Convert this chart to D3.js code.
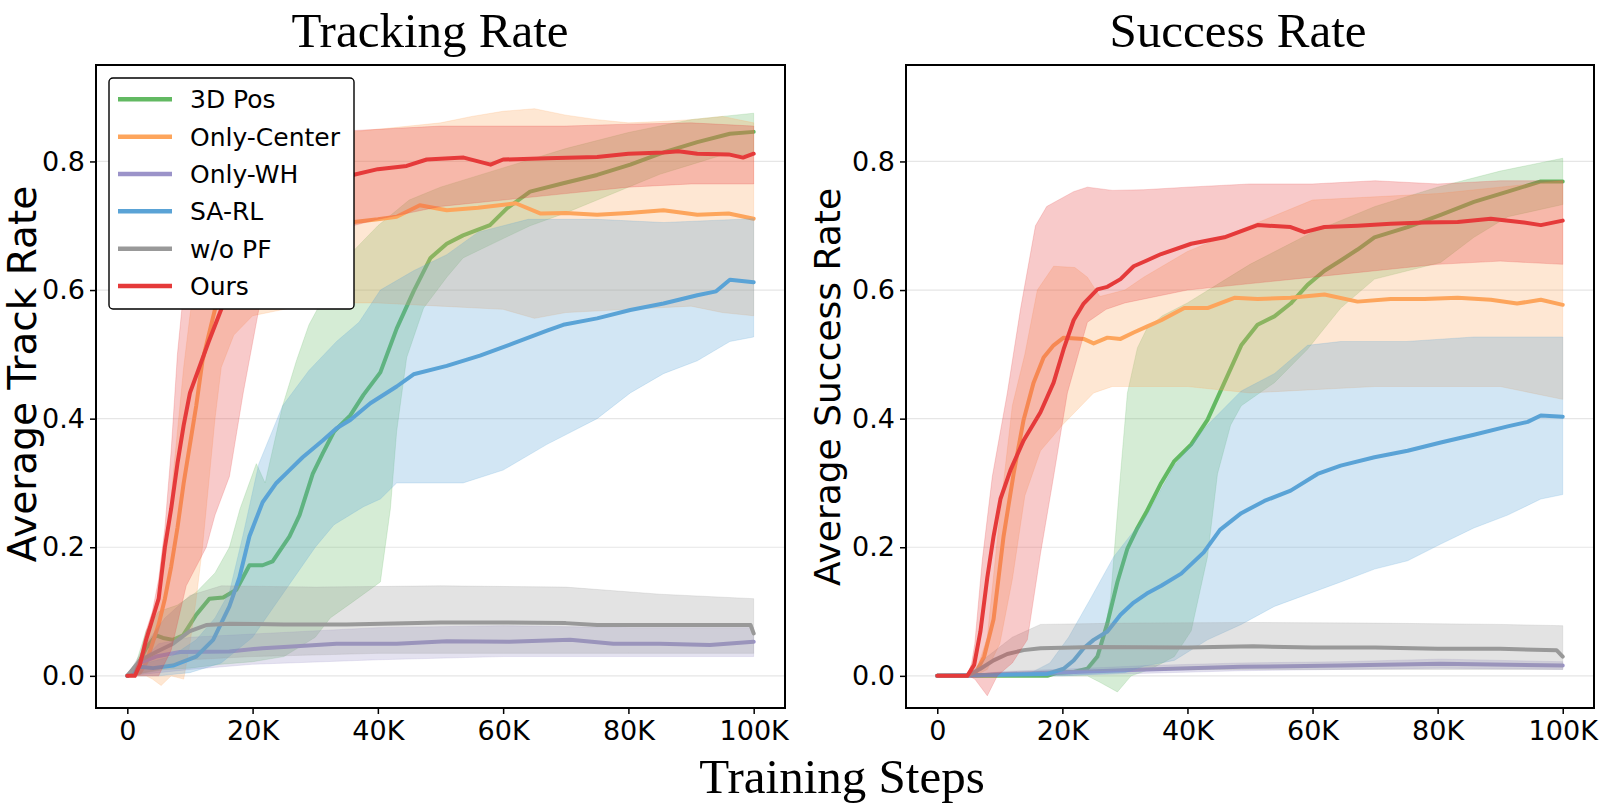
<!DOCTYPE html>
<html>
<head>
<meta charset="utf-8">
<script src="https://d3js.org/d3.v7.min.js"></script>
<style>
  body { margin: 0; background: #fff; }
  svg { display: block; }
</style>
</head>
<body>
<div id="chart"></div>
<script>
/* series names and colours, in legend / drawing order */
const seriesNames  = ["3D Pos", "Only-Center", "Only-WH", "SA-RL", "w/o PF", "Ours"];
const seriesColors = ["#62b962", "#fda55c", "#9b93c9", "#5aa3d6", "#999999", "#e53a3a"];
const xTicks = [0, 20, 40, 60, 80, 100];   // thousands of steps
const yTicks = [0, 0.2, 0.4, 0.6, 0.8];

/* ---- Tracking Rate : [step (K), value] ---- */
const trackPosMean = [[0,0],[1.4,0.011],[3,0.043],[4.6,0.063],[5.7,0.059],[7.3,0.056],[8.9,0.063],[11,0.095],[13.1,0.12],[15.3,0.122],[17.4,0.134],[19.5,0.172],[21.6,0.172],[23.2,0.178],[25.9,0.217],[27.5,0.25],[29.6,0.314],[31.2,0.346],[33,0.38],[35.6,0.405],[37.7,0.437],[40.4,0.472],[43,0.54],[45.7,0.598],[48.4,0.65],[51,0.672],[53.6,0.685],[57.9,0.701],[60.6,0.727],[64.3,0.753],[69.6,0.766],[75,0.779],[80.3,0.795],[85.6,0.814],[91,0.83],[96.2,0.843],[100,0.846]];
const trackPosLo = [[0,0],[3,0.005],[6,0.01],[10,0.012],[15,0.018],[20,0.022],[25,0.03],[30,0.06],[32.4,0.09],[36,0.115],[40.4,0.146],[42,0.26],[43,0.38],[44.6,0.495],[47.3,0.572],[51,0.62],[53.6,0.65],[60,0.68],[64.3,0.7],[70,0.72],[75,0.74],[80,0.76],[85,0.78],[90,0.795],[95,0.81],[100,0.81]];
const trackPosHi = [[0,0],[1.4,0.02],[3,0.07],[5,0.1],[8,0.11],[11,0.13],[14,0.16],[16.3,0.2],[18,0.26],[20.6,0.33],[22,0.3],[24.8,0.42],[27,0.49],[29,0.546],[32,0.6],[36,0.66],[40,0.7],[45,0.74],[50,0.76],[60,0.79],[70,0.82],[80,0.845],[90,0.865],[100,0.875]];

const trackCenterMean = [[0,0],[2,0.005],[3,0.02],[4,0.05],[5,0.08],[6,0.12],[7,0.17],[8,0.23],[9,0.3],[10,0.36],[11,0.42],[12,0.49],[13,0.53],[14,0.57],[16,0.6],[18,0.62],[22,0.66],[26,0.69],[30,0.7],[33,0.705],[36.2,0.706],[40,0.71],[43,0.714],[46.7,0.732],[51,0.724],[56,0.728],[62,0.735],[66,0.719],[70,0.72],[75,0.717],[80,0.72],[85.6,0.724],[91,0.717],[96,0.719],[100,0.711]];
const trackCenterLo = [[0,0],[3,0],[4,-0.005],[5.4,-0.015],[7,0],[9,-0.005],[10,0.05],[11,0.12],[12,0.2],[13,0.3],[14,0.4],[15,0.48],[17,0.53],[20,0.56],[25,0.57],[30,0.58],[40,0.58],[50,0.575],[60,0.57],[65,0.556],[70,0.565],[80,0.57],[90,0.575],[95,0.565],[100,0.56]];
const trackCenterHi = [[0,0],[3,0.04],[5,0.12],[6,0.18],[7,0.28],[8,0.38],[9,0.48],[10,0.56],[11,0.63],[12,0.68],[14,0.74],[17,0.78],[20,0.8],[25,0.82],[30,0.83],[35,0.845],[40,0.85],[45,0.855],[50,0.86],[55,0.87],[60,0.878],[65,0.882],[70,0.872],[75,0.865],[80,0.86],[85,0.862],[90,0.865],[95,0.87],[100,0.86]];

const trackWHMean = [[0,0],[2,0.02],[4.6,0.03],[8.4,0.037],[16.3,0.038],[21.6,0.043],[27,0.046],[33.4,0.05],[43,0.05],[51,0.054],[61,0.053],[70.7,0.056],[77.6,0.05],[85,0.05],[93,0.048],[100,0.053]];
const trackWHLo = [[0,0],[5,0.005],[10,0.01],[20,0.018],[40,0.025],[60,0.03],[80,0.03],[100,0.03]];
const trackWHHi = [[0,0],[5,0.05],[10,0.06],[20,0.065],[40,0.075],[60,0.078],[80,0.075],[100,0.075]];

const trackSAMean = [[0,0],[2,0.014],[4.1,0.012],[7.3,0.016],[11,0.03],[13.7,0.056],[16.3,0.108],[17.9,0.153],[19.5,0.217],[21.6,0.27],[23.8,0.3],[25.9,0.32],[28,0.34],[31.2,0.366],[33.4,0.385],[35.6,0.398],[38.8,0.424],[43,0.45],[45.7,0.469],[51,0.482],[56.3,0.498],[61.6,0.517],[67,0.537],[69.6,0.546],[75,0.556],[80.3,0.569],[85.6,0.579],[91,0.592],[94,0.598],[96.2,0.616],[100,0.612]];
const trackSALo = [[0,0],[5,0],[10,0.005],[15,0.02],[20,0.06],[25,0.13],[30,0.2],[33,0.235],[37.7,0.263],[40.4,0.275],[43,0.3],[53.6,0.3],[60,0.32],[67,0.36],[75,0.4],[80.3,0.44],[85.6,0.47],[91,0.49],[96.2,0.52],[100,0.527]];
const trackSAHi = [[0,0],[3,0.02],[7,0.03],[11,0.056],[14,0.09],[16.3,0.13],[18.5,0.22],[21,0.33],[24.8,0.42],[29,0.475],[33.4,0.52],[37,0.55],[40.4,0.6],[45.7,0.63],[51,0.655],[56,0.69],[64,0.71],[75,0.71],[85.6,0.705],[100,0.711]];

const trackPFMean = [[0,0],[2,0.024],[4.6,0.037],[7.3,0.05],[9.9,0.069],[12.6,0.079],[16.3,0.081],[25,0.08],[35,0.08],[50,0.083],[60,0.083],[70,0.082],[75,0.079],[85,0.079],[95,0.079],[99.5,0.079],[100,0.066]];
const trackPFLo = [[0,0],[5,0.01],[10,0.025],[20,0.03],[40,0.035],[60,0.035],[80,0.035],[100,0.035]];
const trackPFHi = [[0,0],[3,0.05],[6,0.09],[10,0.125],[15,0.14],[30,0.138],[50,0.14],[70,0.138],[85,0.127],[100,0.12]];

const trackOursMean = [[0,0],[1.2,0],[2,0.017],[3,0.056],[4,0.088],[5,0.12],[6,0.2],[7,0.26],[8,0.33],[9,0.39],[10,0.44],[11.5,0.48],[13,0.52],[15,0.57],[17,0.62],[19,0.66],[21,0.69],[24,0.72],[28,0.75],[32,0.77],[36,0.779],[40,0.788],[44.6,0.793],[47.8,0.803],[53.7,0.806],[58,0.795],[60,0.803],[67,0.805],[75,0.807],[80,0.812],[85.6,0.814],[88,0.816],[91,0.812],[96,0.811],[98.3,0.806],[100,0.812]];
const trackOursLo = [[0,0],[4,0],[5,0],[7,0.04],[9.4,0.14],[12.6,0.2],[14,0.25],[16.3,0.31],[18.5,0.44],[21,0.57],[24,0.62],[28,0.66],[32,0.68],[36,0.7],[40,0.71],[50,0.73],[60,0.74],[70,0.75],[80,0.76],[90,0.765],[100,0.765]];
const trackOursHi = [[0,0],[1,0.005],[2,0.03],[3,0.07],[4,0.1],[5,0.15],[6,0.23],[7,0.35],[8,0.5],[9,0.6],[10,0.68],[12,0.75],[15,0.8],[20,0.83],[30,0.845],[40,0.85],[50,0.855],[60,0.855],[70,0.855],[80,0.858],[90,0.86],[100,0.855]];

/* ---- Success Rate : [step (K), value] ---- */
const succPosMean = [[0,0],[17.6,0],[19.2,0.005],[21.8,0.006],[24,0.011],[25.6,0.03],[27.2,0.082],[28.8,0.146],[30.4,0.198],[32,0.23],[33.5,0.256],[35.8,0.3],[37.9,0.334],[40.6,0.36],[43.2,0.398],[45.9,0.456],[48.6,0.514],[51.2,0.546],[53.9,0.559],[56.5,0.579],[59.2,0.608],[61.9,0.63],[64.5,0.646],[67.2,0.663],[69.9,0.682],[75.2,0.698],[80.5,0.717],[85.8,0.737],[91.2,0.753],[96.5,0.769],[100,0.769]];
const succPosLo = [[0,0],[24,0],[26,-0.01],[28.8,-0.025],[31,0],[34,0.01],[36,0.02],[37.9,0.03],[40.6,0.07],[43.2,0.185],[44.8,0.314],[46.9,0.39],[48.6,0.42],[53.9,0.456],[59.2,0.508],[64.5,0.572],[69.9,0.617],[75.2,0.63],[80.5,0.643],[85.8,0.682],[91.2,0.714],[100,0.733]];
const succPosHi = [[0,0],[24,0.005],[26,0.03],[27.7,0.12],[29.3,0.314],[30.4,0.44],[32,0.51],[33.5,0.54],[36,0.56],[40,0.58],[45,0.61],[50,0.64],[60,0.69],[70,0.73],[80,0.76],[90,0.785],[100,0.805]];

const succCenterMean = [[0,0],[5.9,0],[7.5,0.03],[9,0.088],[10.6,0.217],[12.2,0.314],[13.8,0.398],[15.4,0.456],[17,0.495],[18.6,0.514],[20.2,0.526],[23.4,0.524],[25,0.517],[27.2,0.526],[29.3,0.524],[31.4,0.534],[33.5,0.543],[35.8,0.553],[39.5,0.572],[43.2,0.572],[47.5,0.588],[51.2,0.586],[56.5,0.588],[61.9,0.593],[67.2,0.582],[72.5,0.586],[77.9,0.586],[83.2,0.588],[88.5,0.585],[92.7,0.579],[96.5,0.585],[100,0.577]];
const succCenterLo = [[0,0],[6,0],[8,0.01],[10,0.05],[12,0.15],[14,0.28],[16.5,0.35],[20,0.39],[25,0.44],[28,0.45],[33,0.45],[40,0.45],[50,0.44],[60,0.445],[70,0.45],[80,0.45],[90,0.45],[100,0.43]];
const succCenterHi = [[0,0],[6,0],[8,0.06],[10,0.25],[12,0.42],[14,0.5],[16,0.6],[18.6,0.637],[22,0.635],[24,0.62],[26,0.59],[30,0.6],[33,0.62],[40,0.66],[50,0.7],[60,0.74],[70,0.745],[80,0.75],[90,0.76],[100,0.77]];

const succWHMean = [[0,0],[5,0],[11,0.003],[21.8,0.006],[33.5,0.01],[48.6,0.014],[64.5,0.016],[80.5,0.019],[100,0.016]];
const succWHLo = [[0,0],[5,0],[11,0],[21.8,0.001],[33.5,0.004],[48.6,0.008],[64.5,0.01],[80.5,0.012],[100,0.01]];
const succWHHi = [[0,0],[5,0.002],[11,0.007],[21.8,0.011],[33.5,0.016],[48.6,0.02],[64.5,0.022],[80.5,0.026],[100,0.022]];

const succSAMean = [[0,0],[17.6,0.003],[20.2,0.011],[21.8,0.024],[23.4,0.043],[25,0.056],[27.2,0.069],[29.3,0.095],[31.4,0.114],[33.5,0.128],[35.8,0.14],[39,0.159],[42.6,0.192],[45.2,0.227],[48.6,0.253],[52.3,0.272],[56.5,0.288],[60.8,0.314],[64.5,0.327],[69.9,0.34],[75.2,0.35],[80.5,0.363],[85.8,0.375],[91.2,0.388],[94.4,0.395],[96.5,0.405],[100,0.403]];
const succSALo = [[0,0],[20,0],[30,0.005],[33,0.015],[37.9,0.024],[43.2,0.056],[48.6,0.08],[53.9,0.108],[59.2,0.127],[64.5,0.146],[69.9,0.166],[75.2,0.179],[80.5,0.205],[85.8,0.23],[91.2,0.25],[96.5,0.275],[100,0.282]];
const succSAHi = [[0,0],[15,0.005],[18,0.02],[21,0.06],[24.5,0.12],[28.2,0.185],[31,0.22],[33.5,0.25],[37.9,0.327],[43.2,0.39],[48.6,0.443],[53.9,0.47],[59.2,0.514],[64.5,0.52],[75,0.52],[85.8,0.527],[100,0.527]];

const succPFMean = [[0,0],[4.8,0],[6.9,0.011],[9,0.024],[11.2,0.034],[13.8,0.04],[16.5,0.043],[25,0.045],[40,0.044],[50.5,0.046],[60,0.044],[70,0.044],[80,0.042],[90,0.042],[99,0.04],[100,0.03]];
const succPFLo = [[0,0],[5,0],[10,0.005],[20,0.008],[50,0.01],[100,0.01]];
const succPFHi = [[0,0],[4.8,0],[8,0.03],[12,0.06],[16.5,0.08],[30,0.082],[50,0.083],[70,0.082],[90,0.08],[100,0.078]];

const succOursMean = [[0,0],[4.8,0],[5.9,0.017],[6.9,0.069],[8,0.153],[9,0.217],[10.1,0.275],[11.7,0.32],[13.8,0.366],[16.5,0.41],[18.6,0.456],[20.2,0.508],[21.8,0.553],[23.4,0.579],[25.6,0.601],[27.2,0.605],[29.3,0.617],[31.4,0.637],[33.5,0.646],[35.8,0.656],[40.6,0.672],[45.9,0.682],[51.2,0.701],[56.5,0.698],[58.7,0.69],[61.9,0.698],[67.2,0.7],[72.5,0.703],[77.9,0.705],[83.2,0.706],[88.5,0.711],[93.8,0.705],[96.5,0.701],[100,0.708]];
const succOursLo = [[0,0],[5,0],[6,-0.005],[8,-0.031],[9.6,0],[12,0.02],[14.4,0.056],[16.5,0.19],[18.6,0.31],[20.8,0.44],[24,0.55],[27,0.57],[30,0.58],[35,0.59],[40,0.6],[50,0.61],[60,0.62],[70,0.63],[80,0.64],[90,0.645],[100,0.64]];
const succOursHi = [[0,0],[4.8,0],[5.5,0.02],[6,0.05],[7.2,0.18],[8.8,0.31],[11.2,0.44],[13.3,0.57],[15.7,0.7],[17.5,0.73],[21.8,0.753],[24,0.76],[28,0.755],[33,0.756],[40,0.76],[50,0.765],[60,0.765],[70,0.77],[80,0.765],[90,0.77],[100,0.77]];

/* group arrays per panel, same order as seriesNames */
const trackSeries = [
  [trackPosMean, trackPosLo, trackPosHi],
  [trackCenterMean, trackCenterLo, trackCenterHi],
  [trackWHMean, trackWHLo, trackWHHi],
  [trackSAMean, trackSALo, trackSAHi],
  [trackPFMean, trackPFLo, trackPFHi],
  [trackOursMean, trackOursLo, trackOursHi]
];
const succSeries = [
  [succPosMean, succPosLo, succPosHi],
  [succCenterMean, succCenterLo, succCenterHi],
  [succWHMean, succWHLo, succWHHi],
  [succSAMean, succSALo, succSAHi],
  [succPFMean, succPFLo, succPFHi],
  [succOursMean, succOursLo, succOursHi]
];

/* figure */
const W = 1600, H = 811;
const svg = d3.select("#chart").append("svg")
  .attr("width", W).attr("height", H)
  .style("font-family", "'DejaVu Sans', sans-serif");

const serif = "'Liberation Serif', 'Times New Roman', serif";

function drawPanel(box, series, cfg) {
  const x = d3.scaleLinear().domain([-5, 105]).range([box.left, box.right]);
  const y = d3.scaleLinear().domain([-0.05, 0.95]).range([box.bottom, box.top]);
  const g = svg.append("g");

  const clipId = "clip" + cfg.id;
  g.append("clipPath").attr("id", clipId).append("rect")
    .attr("x", box.left).attr("y", box.top)
    .attr("width", box.right - box.left).attr("height", box.bottom - box.top);

  // horizontal grid
  g.append("g").selectAll("line").data(yTicks).join("line")
    .attr("x1", box.left).attr("x2", box.right)
    .attr("y1", d => y(d)).attr("y2", d => y(d))
    .attr("stroke", "#e6e6e6").attr("stroke-width", 1.2);

  const plot = g.append("g").attr("clip-path", `url(#${clipId})`);
  const line = d3.line().x(d => x(d[0])).y(d => y(d[1]));

  series.forEach((s, i) => {
    const [mean, lo, hi] = s;
    // band: upper edge forward, lower edge backward
    const poly = hi.concat(lo.slice().reverse());
    plot.append("path")
      .attr("d", line(poly) + "Z")
      .attr("fill", seriesColors[i])
      .attr("fill-opacity", 0.27)
      .attr("stroke", seriesColors[i])
      .attr("stroke-opacity", 0.25)
      .attr("stroke-width", 0.8);
    plot.append("path")
      .attr("d", line(mean))
      .attr("fill", "none")
      .attr("stroke", seriesColors[i])
      .attr("stroke-width", 4)
      .attr("stroke-linejoin", "round")
      .attr("stroke-linecap", "round");
  });

  // axes
  const xAxis = g.append("g")
    .attr("transform", `translate(0,${box.bottom})`)
    .call(d3.axisBottom(x).tickValues(xTicks).tickSize(6).tickPadding(7)
      .tickFormat(d => d === 0 ? "0" : d + "K"));
  const yAxis = g.append("g")
    .attr("transform", `translate(${box.left},0)`)
    .call(d3.axisLeft(y).tickValues(yTicks).tickSize(6).tickPadding(5)
      .tickFormat(d3.format(".1f")));
  [xAxis, yAxis].forEach(a => {
    a.select(".domain").remove();
    a.selectAll(".tick line").attr("stroke", "#000").attr("stroke-width", 1.5);
    a.selectAll(".tick text").attr("fill", "#000")
      .style("font-family", "'DejaVu Sans', sans-serif").style("font-size", "27px");
  });

  // frame
  g.append("rect")
    .attr("x", box.left).attr("y", box.top)
    .attr("width", box.right - box.left).attr("height", box.bottom - box.top)
    .attr("fill", "none").attr("stroke", "#000").attr("stroke-width", 2);

  // title
  g.append("text")
    .attr("x", cfg.titleX).attr("y", 47)
    .attr("text-anchor", "middle")
    .style("font-family", serif).style("font-size", "49px")
    .text(cfg.title);

  // y label
  g.append("text")
    .attr("transform", `translate(${cfg.ylabX},${cfg.ylabY}) rotate(-90)`)
    .attr("text-anchor", "middle")
    .style("font-size", cfg.ylabSize + "px")
    .text(cfg.ylabel);
}

drawPanel({left: 96, right: 785, top: 65, bottom: 708}, trackSeries,
  {id: "a", title: "Tracking Rate", titleX: 430, ylabel: "Average Track Rate", ylabX: 36, ylabY: 374, ylabSize: 39});
drawPanel({left: 906, right: 1594, top: 65, bottom: 708}, succSeries,
  {id: "b", title: "Success Rate", titleX: 1238, ylabel: "Average Success Rate", ylabX: 840, ylabY: 387, ylabSize: 36});

// shared x label
svg.append("text")
  .attr("x", 842).attr("y", 793)
  .attr("text-anchor", "middle")
  .style("font-family", serif).style("font-size", "49px")
  .text("Training Steps");

// legend (left panel)
const legend = svg.append("g");
legend.append("rect")
  .attr("x", 109).attr("y", 78).attr("width", 245).attr("height", 231)
  .attr("rx", 4)
  .attr("fill", "#fff").attr("stroke", "#000").attr("stroke-width", 1.4);
const rowY = d3.scaleLinear().domain([0, 5]).range([99.3, 286]);
seriesNames.forEach((name, i) => {
  legend.append("line")
    .attr("x1", 118).attr("x2", 172)
    .attr("y1", rowY(i)).attr("y2", rowY(i))
    .attr("stroke", seriesColors[i]).attr("stroke-width", 4.5);
  legend.append("text")
    .attr("x", 190).attr("y", rowY(i) + 9)
    .style("font-size", "25px")
    .text(name);
});
</script>
</body>
</html>
